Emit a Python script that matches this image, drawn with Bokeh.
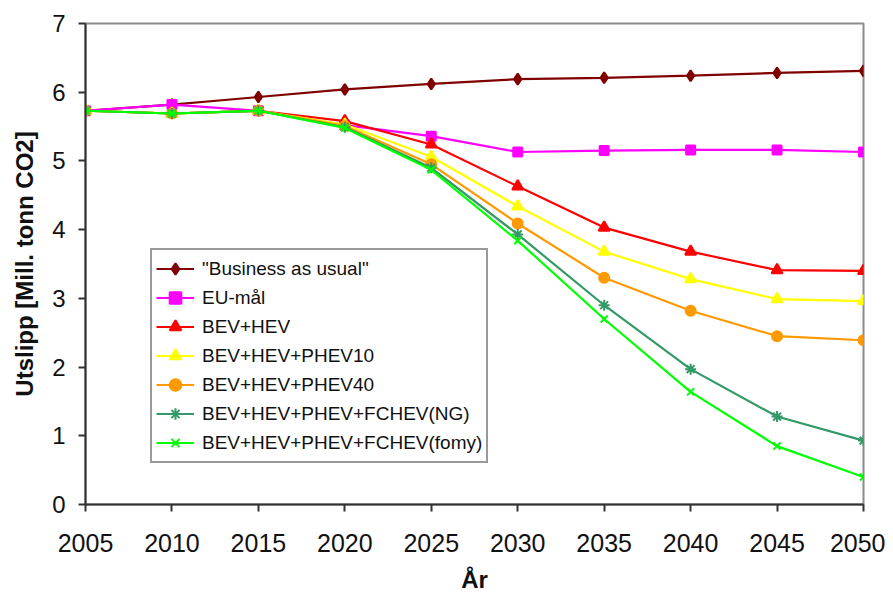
from bokeh.plotting import figure
from bokeh.models import Range1d, FixedTicker, Legend, LegendItem
from bokeh.embed import file_html
from bokeh.resources import INLINE

years = [2005, 2010, 2015, 2020, 2025, 2030, 2035, 2040, 2045, 2050]

bau = [5.73, 5.82, 5.93, 6.04, 6.12, 6.19, 6.21, 6.24, 6.28, 6.31]
eu_maal = [5.73, 5.82, 5.73, 5.52, 5.36, 5.13, 5.15, 5.16, 5.16, 5.13]
bev_hev = [5.73, 5.69, 5.73, 5.58, 5.24, 4.63, 4.03, 3.68, 3.41, 3.40]
phev10 = [5.73, 5.69, 5.73, 5.53, 5.06, 4.34, 3.68, 3.28, 2.99, 2.96]
phev40 = [5.73, 5.69, 5.73, 5.51, 4.95, 4.09, 3.30, 2.82, 2.45, 2.39]
fchev_ng = [5.73, 5.69, 5.73, 5.49, 4.90, 3.93, 2.90, 1.97, 1.28, 0.93]
fchev_fomy = [5.73, 5.69, 5.73, 5.48, 4.87, 3.84, 2.70, 1.64, 0.85, 0.40]

series_names = ['"Business as usual"', "EU-mål", "BEV+HEV", "BEV+HEV+PHEV10",
                "BEV+HEV+PHEV40", "BEV+HEV+PHEV+FCHEV(NG)", "BEV+HEV+PHEV+FCHEV(fomy)"]
series_values = [bau, eu_maal, bev_hev, phev10, phev40, fchev_ng, fchev_fomy]
series_colors = ["#800000", "#FF00FF", "#FF0000", "#FFFF00", "#FF9900", "#339966", "#00FF00"]
series_markers = ["diamond", "square", "triangle", "triangle", "circle", "asterisk", "x"]
marker_sizes = [11, 9, 11, 11, 10, 11, 10]

x_ticks = [2005, 2010, 2015, 2020, 2025, 2030, 2035, 2040, 2045, 2050]
y_ticks = [0, 1, 2, 3, 4, 5, 6, 7]

FONT = "Liberation Sans"

p = figure(width=885, height=595, output_backend="svg", toolbar_location=None,
           x_range=Range1d(2005, 2050), y_range=Range1d(0, 7),
           min_border_left=85, min_border_right=22, min_border_top=23, min_border_bottom=88)

p.background_fill_color = "white"
p.border_fill_color = "white"
p.outline_line_color = "#8c8c8c"
p.outline_line_width = 2
p.xgrid.visible = False
p.ygrid.visible = False

for ax in (p.xaxis[0], p.yaxis[0]):
    ax.axis_line_color = "#333333"
    ax.axis_line_width = 2
    ax.major_tick_line_color = "#333333"
    ax.major_tick_line_width = 2
    ax.major_tick_out = 7
    ax.major_tick_in = 0
    ax.minor_tick_line_color = None
    ax.major_label_text_font = FONT
    ax.major_label_text_color = "#111111"
    ax.axis_label_text_font = FONT
    ax.axis_label_text_font_style = "bold"
    ax.axis_label_text_color = "#111111"

p.xaxis.ticker = FixedTicker(ticks=x_ticks)
p.yaxis.ticker = FixedTicker(ticks=y_ticks)
p.xaxis.major_label_text_font_size = "25px"
p.yaxis.major_label_text_font_size = "24px"
p.xaxis.major_label_standoff = 22
p.yaxis.major_label_standoff = 13
p.xaxis.axis_label = "År"
p.yaxis.axis_label = "Utslipp [Mill. tonn CO2]"
p.xaxis.axis_label_text_font_size = "24px"
p.yaxis.axis_label_text_font_size = "24px"
p.xaxis.axis_label_standoff = 11
p.yaxis.axis_label_standoff = 11

items = []
for name, vals, col, mk, ms in zip(series_names, series_values, series_colors, series_markers, marker_sizes):
    ln = p.line(years, vals, line_color=col, line_width=2.2)
    sc = p.scatter(years, vals, marker=mk, size=ms, fill_color=col, line_color=col, line_width=2)
    items.append(LegendItem(label=name, renderers=[ln, sc]))

legend = Legend(items=items, location=(65, 41))
legend.label_text_font = FONT
legend.label_text_font_size = "19px"
legend.label_text_color = "#111111"
legend.border_line_color = "#333333"
legend.border_line_width = 2
legend.background_fill_color = "white"
legend.background_fill_alpha = 1
legend.padding = 4
legend.spacing = 0
legend.margin = 0
legend.label_height = 29
legend.glyph_height = 29
legend.glyph_width = 38
legend.label_standoff = 8
p.add_layout(legend, "center")

open("out.html", "w").write(file_html(p, INLINE))
